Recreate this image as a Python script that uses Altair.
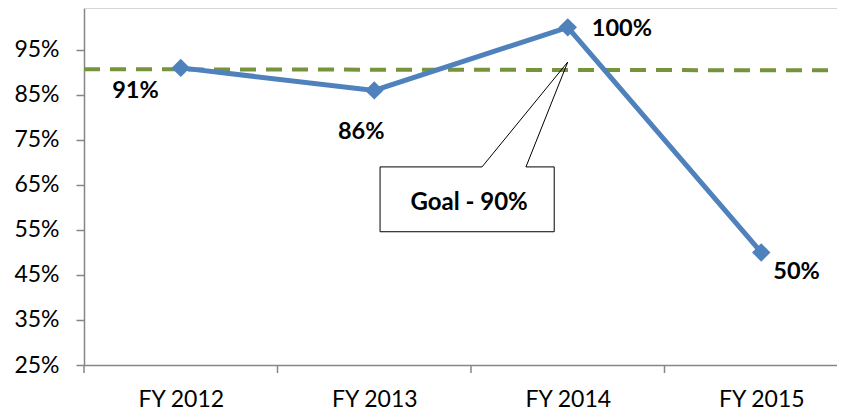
import json
import altair as alt
import pandas as pd

# ---- data ----
years = ["FY 2012", "FY 2013", "FY 2014", "FY 2015"]
values = [91, 86, 100, 50]
y_ticks = [25, 35, 45, 55, 65, 75, 85, 95]
goal_label = "Goal - 90%"
goal_ends = [90.7, 90.45]          # dashed goal line (left end, right end)

# ---- layout constants ----
W, H = 753, 357
X_MIN, X_MAX = -0.5, -0.5 + W / 193.5
Y_MIN, Y_MAX = 25, 104.3
FONT = "Lato"
BLUE = "#4F81BD"
GREEN = "#77933C"
GRAY = "#868686"
AXIS_FS = 23
LABEL_FS = 23.5

df = pd.DataFrame({"idx": list(range(len(years))), "year": years, "value": values})

xscale = alt.Scale(domain=[X_MIN, X_MAX], nice=False, zero=False)
yscale = alt.Scale(domain=[Y_MIN, Y_MAX], nice=False, zero=False)

label_expr = json.dumps(years) + "[datum.value]"

x_axis = alt.Axis(values=list(range(len(years))), labelExpr=label_expr, ticks=False,
                  grid=False, domainColor=GRAY, domainWidth=1.5, title=None,
                  labelFont=FONT, labelFontSize=AXIS_FS, labelColor="#000000",
                  labelPadding=23, labelFlush=False)
y_axis = alt.Axis(values=y_ticks, labelExpr="datum.value + '%'", tickSize=8,
                  tickColor=GRAY, tickWidth=1.5, grid=False, domainColor=GRAY,
                  domainWidth=1.5, title=None, labelFont=FONT, labelFontSize=AXIS_FS,
                  labelColor="#000000", labelPadding=17)

X = lambda f: alt.X(f, scale=xscale, axis=x_axis)
Y = lambda f: alt.Y(f, scale=yscale, axis=y_axis)

# top border
top = alt.Chart(pd.DataFrame({"a": [0]})).mark_rule(color="#C8C8C8", strokeWidth=1.5).encode(
    y=alt.value(0), x=alt.value(0), x2=alt.value(W))

# goal line
goal_df = pd.DataFrame({"x": [X_MIN, X_MAX], "y": goal_ends})
goal = alt.Chart(goal_df).mark_line(color=GREEN, strokeWidth=4, strokeDash=[16, 10]).encode(
    x=X("x:Q"), y=Y("y:Q"))

# callout (annotation in data units: points at FY 2014, just above the goal line)
box_df = pd.DataFrame({"x": [1.03], "x2": [1.93], "y": [54.6], "y2": [69.0]})
box = alt.Chart(box_df).mark_rect(color="white").encode(
    x=X("x:Q"), x2="x2:Q", y=Y("y:Q"), y2="y2:Q")
outline_df = pd.DataFrame({
    "x": [1.03, 1.557, 2.0, 1.784, 1.93, 1.93, 1.03, 1.03],
    "y": [69.0, 69.0, 92.3, 69.0, 69.0, 54.6, 54.6, 69.0],
    "o": list(range(8)),
})
outline = alt.Chart(outline_df).mark_line(color="black", strokeWidth=1).encode(
    x=X("x:Q"), y=Y("y:Q"), order="o:Q")
ctext = alt.Chart(pd.DataFrame({"x": [1.49], "y": [61.0], "t": [goal_label]})).mark_text(
    font=FONT, fontSize=24, fontWeight="bold", color="black", baseline="middle").encode(
    x=X("x:Q"), y=Y("y:Q"), text="t:N")

# main line + markers
base = alt.Chart(df).encode(x=X("idx:Q"), y=Y("value:Q"))
line = base.mark_line(color=BLUE, strokeWidth=5)
points = base.mark_point(shape="diamond", filled=True, size=340, color=BLUE, opacity=1)

def labp(year, **kw):
    return alt.Chart(df).transform_filter(alt.datum.year == year).transform_calculate(
        t="datum.value + '%'").mark_text(
        font=FONT, fontSize=LABEL_FS, fontWeight="bold", color="black", baseline="middle", **kw
    ).encode(x=X("idx:Q"), y=Y("value:Q"), text="t:N")

labels = [
    labp("FY 2012", align="right", dx=-22, dy=23),
    labp("FY 2013", align="center", dx=-13, dy=42),
    labp("FY 2014", align="left", dx=24, dy=2),
    labp("FY 2015", align="left", dx=12, dy=20),
]

# category boundary tick marks on the x axis
tick_df = pd.DataFrame({"b": [-0.5, 0.5, 1.5, 2.5]})
ticks = alt.Chart(tick_df).mark_rule(color=GRAY, strokeWidth=1.5).encode(
    x=X("b:Q"), y=alt.value(H), y2=alt.value(H + 8))

chart = alt.layer(
    top, goal, box, outline, ctext, line, points, *labels, ticks
).properties(
    width=W, height=H,
    autosize=alt.AutoSizeParams(type="none"),
    padding={"left": 76, "top": 0, "right": 0, "bottom": 45},
    background="white",
).configure_view(stroke=None)

chart.save("out.html", embed_options={"renderer": "svg", "actions": False})
